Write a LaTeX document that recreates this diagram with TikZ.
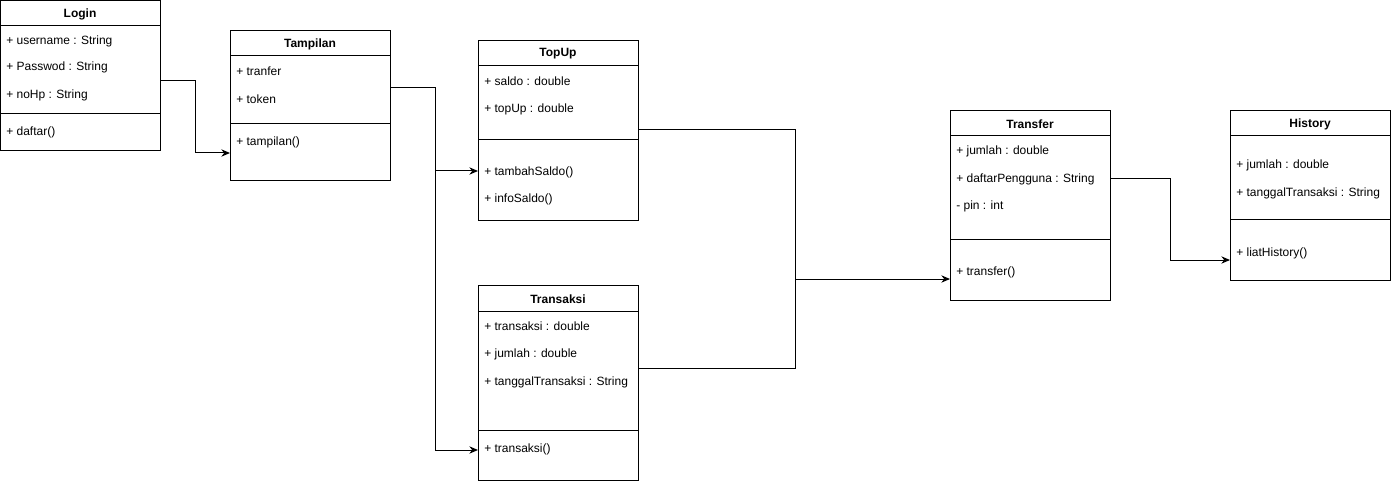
\documentclass[tikz,border=0pt]{standalone}
\usepackage{fontspec}
\setmainfont{Liberation Sans}
\usetikzlibrary{arrows.meta}
\tikzset{classbox/.style={draw, anchor=north west, minimum width=120pt,
         inner sep=0pt, line width=0.75pt},
         member/.style={anchor=west, inner sep=0pt, yshift=-0.75pt,
         font=\fontsize{9}{11}\selectfont},
         classname/.style={inner sep=0pt, yshift=-0.75pt,
         font=\fontsize{9}{11}\selectfont\bfseries},
         sep/.style={line width=0.75pt},
         link/.style={line width=0.75pt, -{Stealth[length=6.5pt,width=5.5pt]}}}

\begin{document}
\begin{tikzpicture}[x=0.75pt, y=-0.75pt]
        \useasboundingbox (0,0) rectangle (1391,481);

        % Login
        \node[classbox, minimum height=112.5pt] (login) at (0,0) {};
        \draw[sep] (login.west |- 0,26) -- (login.east |- 0,26);
        \draw[sep] (login.west |- 0,114) -- (login.east |- 0,114);
        \node[classname] (loginName) at (80,13) {Login};
        \node[member] (loginUser) at (6,40) {+ username : String};
        \node[member] (loginPass) at (6,66) {+ Passwod : String};
        \node[member] (loginHp) at (6,94) {+ noHp : String};
        \node[member] (loginDaftar) at (6,131) {+ daftar()};

        % Tampilan
        \node[classbox, minimum height=112.5pt] (tampilan) at (230,30) {};
        \draw[sep] (tampilan.west |- 0,56) -- (tampilan.east |- 0,56);
        \draw[sep] (tampilan.west |- 0,124) -- (tampilan.east |- 0,124);
        \node[classname] (tampilanName) at (310,43) {Tampilan};
        \node[member] (tampilanTranfer) at (236,70) {+ tranfer};
        \node[member] (tampilanToken) at (236,98) {+ token};
        \node[member] (tampilanFn) at (236,141) {+ tampilan()};

        % TopUp
        \node[classbox, minimum height=135pt] (topup) at (478,40) {};
        \draw[sep] (topup.west |- 0,66) -- (topup.east |- 0,66);
        \draw[sep] (topup.west |- 0,140) -- (topup.east |- 0,140);
        \node[classname] (topupName) at (558,53) {TopUp};
        \node[member] (topupSaldo) at (484,80) {+ saldo : double};
        \node[member] (topupTop) at (484,108) {+ topUp : double};
        \node[member] (topupTambah) at (484,171) {+ tambahSaldo()};
        \node[member] (topupInfo) at (484,198) {+ infoSaldo()};

        % Transaksi
        \node[classbox, minimum height=146.25pt] (transaksi) at (478,285) {};
        \draw[sep] (transaksi.west |- 0,311) -- (transaksi.east |- 0,311);
        \draw[sep] (transaksi.west |- 0,430) -- (transaksi.east |- 0,430);
        \node[classname] (transaksiName) at (558,298) {Transaksi};
        \node[member] (transaksiTr) at (484,325) {+ transaksi : double};
        \node[member] (transaksiJml) at (484,353) {+ jumlah : double};
        \node[member] (transaksiTgl) at (484,381) {+ tanggalTransaksi : String};
        \node[member] (transaksiFn) at (484,448) {+ transaksi()};

        % Transfer
        \node[classbox, minimum height=142.5pt] (transfer) at (950,110) {};
        \draw[sep] (transfer.west |- 0,136) -- (transfer.east |- 0,136);
        \draw[sep] (transfer.west |- 0,239) -- (transfer.east |- 0,239);
        \node[classname] (transferName) at (1030,123) {Transfer};
        \node[member] (transferJml) at (956,150) {+ jumlah : double};
        \node[member] (transferDaftar) at (956,178) {+ daftarPengguna : String};
        \node[member] (transferPin) at (956,205) {- pin : int};
        \node[member] (transferFn) at (956,271) {+ transfer()};

        % History
        \node[classbox, minimum height=127.5pt] (history) at (1230,110) {};
        \draw[sep] (history.west |- 0,136) -- (history.east |- 0,136);
        \draw[sep] (history.west |- 0,219) -- (history.east |- 0,219);
        \node[classname] (historyName) at (1310,123) {History};
        \node[member] (historyJml) at (1236,164) {+ jumlah : double};
        \node[member] (historyTgl) at (1236,192) {+ tanggalTransaksi : String};
        \node[member] (historyFn) at (1236,252) {+ liatHistory()};

        % Connectors
        \coordinate (loginBend) at (195,81);
        \coordinate (tampilanSplit) at (435,171);
        \coordinate (transferJoin) at (795,279);
        \coordinate (historyBend) at (1170,178);

        \draw[link] (login.east |- loginBend) -- (loginBend) |- (tampilan.west |- 0,153);
        \draw[link] (tampilan.east |- 0,88) -| (tampilanSplit) -- (topup.west |- tampilanSplit);
        \draw[link] (tampilanSplit) |- (transaksi.west |- 0,450);
        \draw[link] (topup.east |- 0,130) -| (transferJoin) -- (transfer.west |- transferJoin);
        \draw[sep] (transaksi.east |- 0,368) -| (transferJoin);
        \draw[link] (transfer.east |- historyBend) -- (historyBend) |- (history.west |- 0,260);
    \end{tikzpicture}
\end{document}
